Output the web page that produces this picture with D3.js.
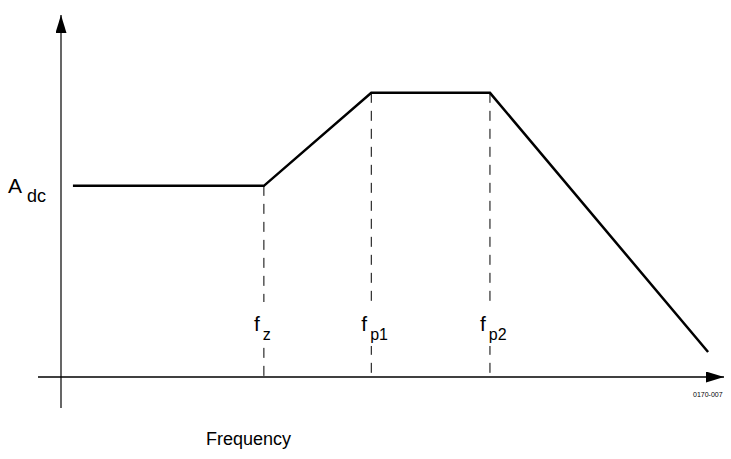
<!DOCTYPE html>
<html><head><meta charset="utf-8">
<script src="https://cdn.jsdelivr.net/npm/d3@7"></script>
<style>body{margin:0;background:#fff}text{font-family:"Liberation Sans",Arial,sans-serif}</style>
</head><body><svg id="c" width="731" height="459"></svg>
<script>
// response curve breakpoints (arbitrary units)
var freqPts = [1.8, 30.6, 46.8, 64.7, 97.6];
var gainPts = [52.8, 52.8, 78.5, 78.5, 6.9];
var markers = [{f:30.6, g:52.8, main:"f", sub:"z"}, {f:46.8, g:78.5, main:"f", sub:"p1"}, {f:64.7, g:78.5, main:"f", sub:"p2"}];

var svg = d3.select("#c");
var x = d3.scaleLinear().domain([0, 100]).range([61, 724]);
var y = d3.scaleLinear().domain([0, 100]).range([377, 15]);

var defs = svg.append("defs");
defs.append("marker").attr("id","ar").attr("viewBox","0 0 10 10")
  .attr("refX",10).attr("refY",5).attr("markerWidth",18).attr("markerHeight",11)
  .attr("markerUnits","userSpaceOnUse").attr("orient","auto").attr("preserveAspectRatio","none")
  .append("path").attr("d","M0,0L10,5L0,10z").attr("fill","#000");

// axes
svg.append("line").attr("x1",x(0)).attr("x2",x(0)).attr("y1",408).attr("y2",y(100))
  .attr("stroke","#000").attr("stroke-width",1.2).attr("marker-end","url(#ar)");
svg.append("line").attr("x1",38).attr("x2",x(100)).attr("y1",y(0)).attr("y2",y(0))
  .attr("stroke","#000").attr("stroke-width",1.6).attr("marker-end","url(#ar)");

// dashed drop lines
svg.selectAll(".drop").data(markers).enter().append("line")
  .attr("x1",d=>x(d.f)).attr("x2",d=>x(d.f)).attr("y1",d=>y(d.g)).attr("y2",y(0))
  .attr("stroke","#000").attr("stroke-width",1).attr("stroke-dasharray","10,8");

// response curve
var line = d3.line().x(d=>x(d[0])).y(d=>y(d[1]));
svg.append("path").datum(d3.zip(freqPts, gainPts)).attr("d", line)
  .attr("fill","none").attr("stroke","#000").attr("stroke-width",2.5);

// label backgrounds hide the dashes
svg.selectAll(".bg").data(markers).enter().append("rect")
  .attr("x",d=>x(d.f)-12).attr("y",302).attr("width",36).attr("height",44).attr("fill","#fff");

// marker labels
var lab = svg.selectAll(".lab").data(markers).enter().append("text")
  .attr("x",d=>x(d.f)-10).attr("y",331).attr("font-size",21);
lab.append("tspan").text(d=>d.main);
lab.append("tspan").attr("dx",3).attr("dy",9).attr("font-size",16).text(d=>d.sub);

var a = svg.append("text").attr("x",8).attr("y",193).attr("font-size",21);
a.append("tspan").text("A");
a.append("tspan").attr("dx",5).attr("dy",9).attr("font-size",18).text("dc");

svg.append("text").attr("x",206).attr("y",445).attr("font-size",18).text("Frequency");
svg.append("text").attr("x",693).attr("y",397).attr("font-size",7).text("0170-007");
</script></body></html>
